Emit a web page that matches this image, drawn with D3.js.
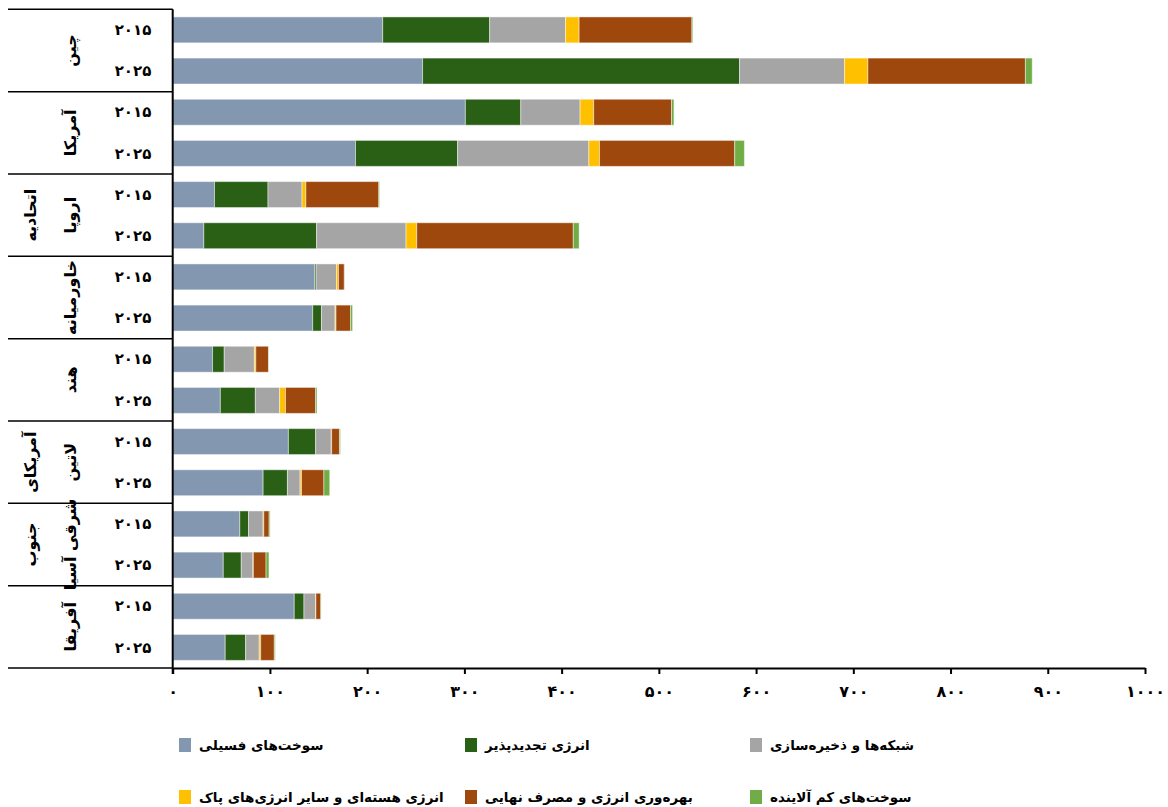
<!DOCTYPE html>
<html>
<head>
<meta charset="utf-8">
<script src="https://cdn.jsdelivr.net/npm/d3@7"></script>
<style>
  body { margin: 0; background: #fff; }
  text { font-family: "DejaVu Sans", sans-serif; }
</style>
</head>
<body>
<svg id="chart"></svg>
<script>
// regions (each has a 2015 and 2025 row), label lines for the rotated text
const regions = [
  ['چین'],
  ['آمریکا'],
  ['اتحادیه', 'اروپا'],
  ['خاورمیانه'],
  ['هند'],
  ['آمریکای', 'لاتین'],
  ['جنوب', 'شرقی آسیا'],
  ['آفریقا']
];
const years = ['۲۰۱۵', '۲۰۲۵'];

// series values, one per row (region x year), top to bottom
const fossil     = [216, 257, 301, 188, 43, 32, 146, 144, 41, 49, 119, 93, 69, 52, 125, 54];
const renewable  = [110, 326, 57, 105, 55, 116, 1.5, 9, 12, 36, 28, 25, 9, 18.5, 10, 21];
const grids      = [78, 108, 61, 135, 35, 92, 21, 14, 31, 25, 16, 13, 15, 12, 12, 14];
const nuclear    = [14, 24, 14, 11, 4, 11, 2, 1, 1.5, 6, 0.5, 1.5, 0.7, 0.5, 0.3, 1.5];
const efficiency = [116, 162, 80, 139, 75, 161, 6, 15, 13, 31, 8, 23, 5.5, 13, 5, 14];
const lowEmis    = [1, 7, 2.5, 10, 0.7, 6, 0.3, 2, 0.3, 1.4, 1, 6, 1, 3, 0.3, 1];

const seriesNames = [
  'سوخت‌های فسیلی',
  'انرژی تجدیدپذیر',
  'شبکه‌ها و ذخیره‌سازی',
  'انرژی هسته‌ای و سایر انرژی‌های پاک',
  'بهره‌وری انرژی و مصرف نهایی',
  'سوخت‌های کم آلاینده'
];
const xTicks = [0, 100, 200, 300, 400, 500, 600, 700, 800, 900, 1000];

const colors = ['#8497B0', '#2A6015', '#A5A5A5', '#FFC000', '#9E480E', '#70AD47'];

const toFa = n => String(n).replace(/\d/g, d => '۰۱۲۳۴۵۶۷۸۹'[d]);

// build rows
const keys = ['fossil', 'renewable', 'grids', 'nuclear', 'efficiency', 'low'];
const cols = [fossil, renewable, grids, nuclear, efficiency, lowEmis];
const rows = [];
regions.forEach((r, i) => {
  years.forEach((y, j) => {
    const idx = i * 2 + j;
    const row = { id: idx, region: i, year: y };
    keys.forEach((k, s) => row[k] = cols[s][idx]);
    rows.push(row);
  });
});

// set up constants
const width = 1168;
const height = 807;
const margin = { top: 9.3, left: 172.7, right: 23, bottom: 139 };
const plotBottom = height - margin.bottom;

const svg = d3.select('#chart')
  .attr('width', width)
  .attr('height', height);

const xScale = d3.scaleLinear()
  .domain([0, 1000])
  .range([margin.left, 1145]);

const yScale = d3.scaleBand()
  .domain(rows.map(d => d.id))
  .range([margin.top, plotBottom])
  .paddingInner(0.37)
  .paddingOuter(0.185);

const stack = d3.stack().keys(keys);
const layers = stack(rows);

// bars
svg.append('g')
  .selectAll('g')
  .data(layers)
  .enter()
  .append('g')
  .attr('fill', (d, i) => colors[i])
  .selectAll('rect')
  .data(d => d)
  .enter()
  .append('rect')
  .attr('x', d => xScale(d[0]))
  .attr('y', d => yScale(d.data.id))
  .attr('width', d => Math.max(0, xScale(d[1]) - xScale(d[0])))
  .attr('height', yScale.bandwidth())
  .attr('stroke', 'rgba(255,255,255,0.45)')
  .attr('stroke-width', 1);

// x axis
const xAxis = d3.axisBottom(xScale)
  .tickValues(xTicks)
  .tickSize(6)
  .tickSizeOuter(0)
  .tickFormat(toFa);

const gx = svg.append('g')
  .attr('transform', `translate(0, ${plotBottom})`)
  .call(xAxis);
gx.select('.domain').attr('stroke', '#000').attr('stroke-width', 2);
gx.selectAll('.tick line').attr('stroke', '#000').attr('stroke-width', 2);
gx.selectAll('.tick text')
  .attr('y', 18)
  .attr('font-size', 16)
  .attr('font-weight', 'bold')
  .attr('font-family', '"DejaVu Sans", sans-serif')
  .attr('fill', '#000');

// y axis line
svg.append('line')
  .attr('x1', margin.left).attr('x2', margin.left)
  .attr('y1', margin.top).attr('y2', plotBottom + 6)
  .attr('stroke', '#000')
  .attr('stroke-width', 2);

// group separators
const groupStep = (plotBottom - margin.top) / regions.length;
d3.range(regions.length + 1).forEach(i => {
  svg.append('line')
    .attr('x1', 8).attr('x2', margin.left)
    .attr('y1', margin.top + i * groupStep)
    .attr('y2', margin.top + i * groupStep)
    .attr('stroke', '#000')
    .attr('stroke-width', 1.5);
});

// year labels
svg.append('g')
  .selectAll('text')
  .data(rows)
  .enter()
  .append('text')
  .attr('x', 133)
  .attr('y', d => yScale(d.id) + yScale.bandwidth() / 2)
  .attr('dy', '0.35em')
  .attr('text-anchor', 'middle')
  .attr('font-size', 15)
  .attr('font-weight', 'bold')
  .text(d => d.year);

// region labels (rotated)
regions.forEach((lines, i) => {
  const cy = margin.top + (i + 0.5) * groupStep;
  const xs = lines.length === 1 ? [70] : [30, 70];
  lines.forEach((t, j) => {
    svg.append('text')
      .attr('transform', `translate(${xs[j]}, ${cy}) rotate(-90)`)
      .attr('dy', '0.35em')
      .attr('text-anchor', 'middle')
      .attr('font-size', 16)
      .attr('font-weight', 'bold')
      .text(t);
  });
});

// legend
const legendX = [179, 465, 750];
const legendY = [745, 797];
const legend = svg.append('g')
  .selectAll('g')
  .data(seriesNames)
  .enter()
  .append('g')
  .attr('transform', (d, i) => `translate(${legendX[i % 3]}, ${legendY[Math.floor(i / 3)]})`);

legend.append('rect')
  .attr('x', 0)
  .attr('y', -7)
  .attr('width', 12)
  .attr('height', 14)
  .attr('fill', (d, i) => colors[i]);

legend.append('text')
  .attr('x', 20)
  .attr('dy', '0.35em')
  .attr('font-size', 13.5)
  .attr('font-weight', 'bold')
  .text(d => d);
</script>
</body>
</html>
